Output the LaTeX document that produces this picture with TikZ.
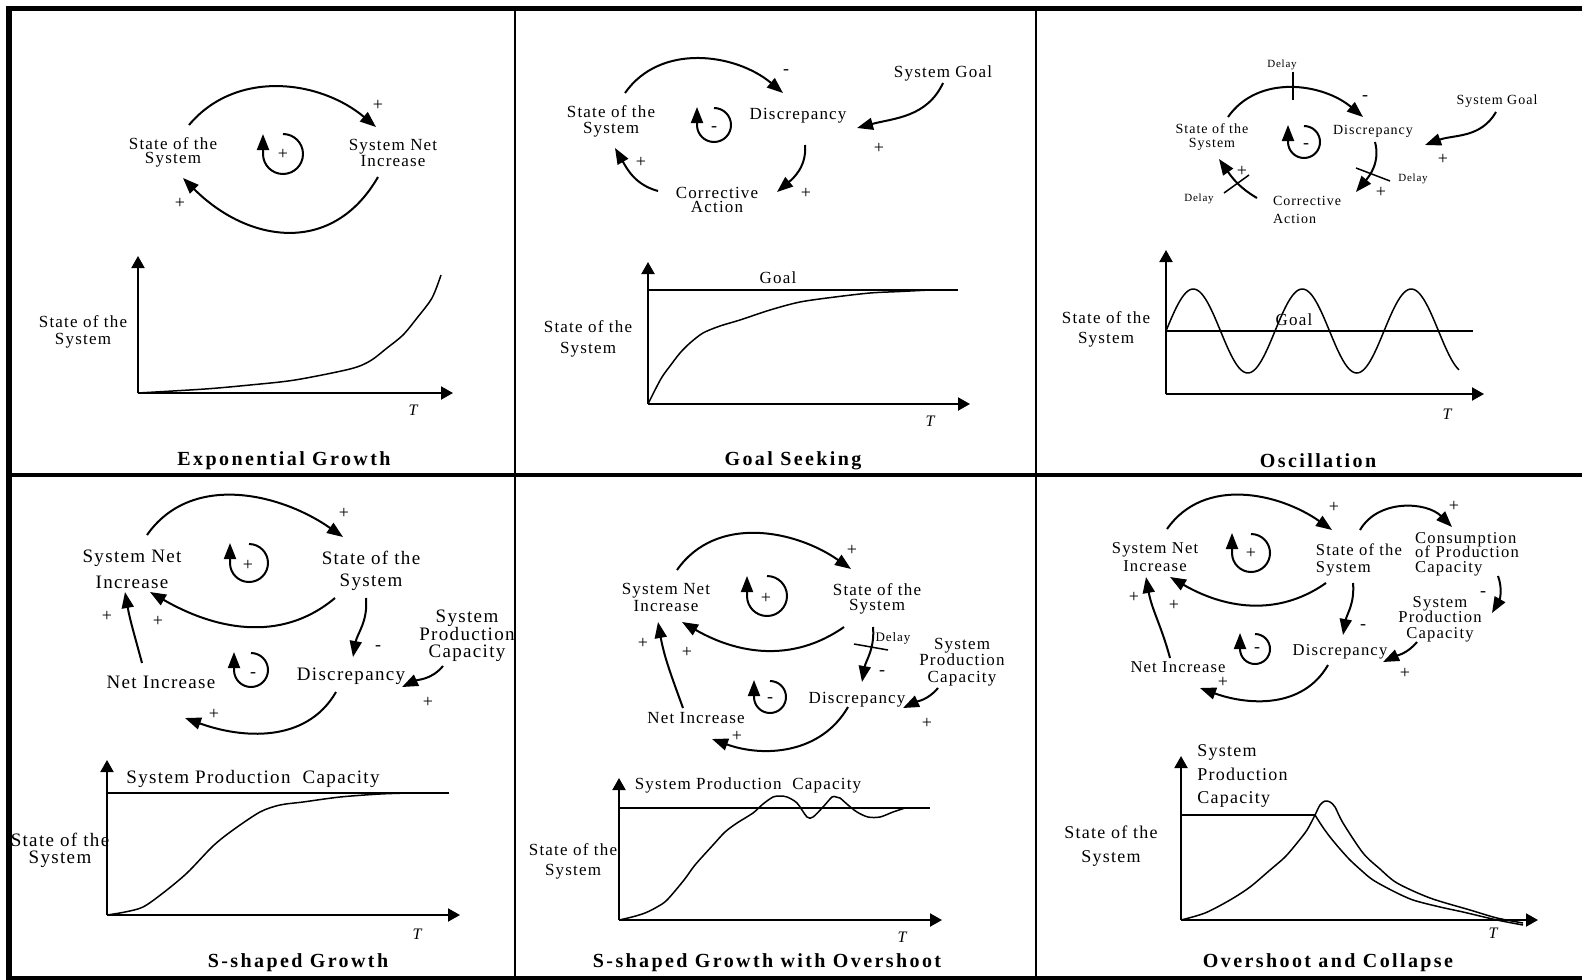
\documentclass[tikz,border=0pt]{standalone}
\usepackage{fontspec}
\setmainfont{Liberation Serif}[LetterSpace=7]
\newfontfamily\ttlfont{Liberation Serif}[LetterSpace=12]
\usepackage{tikz}
\usetikzlibrary{arrows.meta}
\newcommand\fs[2]{\fontsize{#1}{#2}\selectfont\lineskiplimit=-30pt\relax}

\begin{document}
\begin{tikzpicture}[x=0.5pt,y=0.5pt,>={Triangle[length=8pt,width=6pt]}]
\tikzstyle{lab}=[inner sep=0,align=center]
\tikzstyle{sgn}=[inner sep=0,font=\fs{9}{9}]
\tikzstyle{ttl}=[inner sep=0,font=\ttlfont\fs{10}{10}\bfseries]
\tikzstyle{tt}=[inner sep=0,font=\fs{8}{8}\itshape]
\tikzstyle{dly}=[inner sep=0,font=\fs{5.5}{5.5}]
\tikzstyle{cl}=[->,line width=1pt]
\tikzstyle{ax}=[-{Triangle[length=6pt,width=6.5pt]},line width=1pt]
\tikzstyle{crv}=[line width=0.75pt]
\useasboundingbox (0,0) rectangle (1582,-979);

% Exponential Growth
\node[lab,font=\fs{8.5}{7}] (p1s) at (173,-152) {State of the\\System};
\node[lab,font=\fs{8.5}{8}] (p1n) at (393,-153) {System Net\\Increase};
\draw[cl] ([shift={(16,27)}]p1s.center) to[out=50,in=140] ([shift={(-17,26)}]p1n.center);
\draw[cl,looseness=1.2] ([shift={(-15,-24)}]p1n.center) to[out=-120,in=-45] ([shift={(10,-26)}]p1s.center);
\node[sgn] (p1a) at (378,-105) {+};
\node[sgn] (p1b) at (180,-203) {+};
\draw[cl] (283,-134) arc[start angle=90,end angle=-180,radius=20] -- ++(0,20);
\node[sgn] (p1c) at (283,-154) {+};
\coordinate (o1) at (138,-393);
\draw[ax] (o1) -- ++(0,137);
\draw[ax] (o1) -- ++(315,0);
\draw[crv] plot[smooth] coordinates {(138,-393) (205,-389) (250,-385) (295,-380) (350,-369) (370,-361) (387,-348) (403,-335) (417,-318) (432,-298) (441,-275)};
\node[lab,font=\fs{8.5}{8.5}] (p1y) at (83,-332) {State of the\\System};
\node[tt] (p1t) at (413,-410) {T};
\node[ttl] (p1h) at (284,-461) {Exponential Growth};

% Goal Seeking
\node[lab,font=\fs{8.5}{8}] (p2s) at (611,-121) {State of the\\System};
\node[lab,font=\fs{8.5}{8.5}] (p2d) at (798,-116) {Discrepancy};
\node[lab,font=\fs{8.5}{8.5}] (p2g) at (943,-73) {System Goal};
\node[lab,font=\fs{8.5}{7}] (p2c) at (717,-200) {Corrective\\Action};
\draw[cl] ([shift={(14,28)}]p2s.center) to[out=55,in=140] ([shift={(-15,23)}]p2d.center);
\draw[cl] ([shift={(7,-29)}]p2d.center) to[out=-85,in=40] ([shift={(60,8)}]p2c.center);
\draw[cl] ([shift={(-59,9)}]p2c.center) to[out=165,in=-60] ([shift={(4,-27)}]p2s.center);
\draw[cl] ([shift={(0,-10)}]p2g.center) to[out=-115,in=15] ([shift={(59,-12)}]p2d.center);
\node[sgn] (p2a) at (786,-72) {-};
\node[sgn] (p2b) at (806,-193) {+};
\node[sgn] (p2e) at (641,-162) {+};
\node[sgn] (p2f) at (879,-148) {+};
\draw[cl] (714,-108) arc[start angle=90,end angle=-180,radius=17] -- ++(0,18);
\node[sgn] (p2l) at (714,-129) {-};
\coordinate (o2) at (648,-404);
\draw[ax] (o2) -- ++(0,142);
\draw[ax] (o2) -- ++(322,0);
\draw[crv] (648,-290) -- (958,-290);
\node[lab,font=\fs{8.5}{8.5}] (p2o) at (778,-278) {Goal};
\draw[crv] plot[smooth] coordinates {(648,-404) (655,-390) (662,-377) (670,-366) (680,-353) (690,-343) (703,-333) (720,-326) (740,-320) (770,-310) (800,-302) (835,-297) (870,-293) (900,-291.5) (930,-290)};
\node[lab,font=\fs{8.5}{10.5}] (p2y) at (588,-339) {State of the\\System};
\node[tt] (p2t) at (930,-421) {T};
\node[ttl] (p2h) at (793,-461) {Goal Seeking};

% Oscillation
\node[lab,font=\fs{7}{7}] (p3s) at (1212,-137) {State of the\\System};
\node[lab,font=\fs{7}{7}] (p3d) at (1373,-131) {Discrepancy};
\node[lab,font=\fs{7}{7}] (p3g) at (1497,-101) {System Goal};
\node[lab,align=left,font=\fs{7}{9}] (p3c) at (1307,-210) {Corrective\\Action};
\draw[cl] ([shift={(16,20)}]p3s.center) to[out=55,in=140] ([shift={(-10,14)}]p3d.center);
\draw[cl] ([shift={(2,-11)}]p3d.center) to[out=-75,in=50] ([shift={(49,18)}]p3c.center);
\draw[cl] ([shift={(-50,12)}]p3c.center) to[out=150,in=-55] ([shift={(7,-22)}]p3s.center);
\draw[cl] ([shift={(-1,-11)}]p3g.center) to[out=-120,in=20] ([shift={(52,-14)}]p3d.center);
\node[dly] (p3x) at (1282,-65) {Delay};
\node[dly] (p3y2) at (1413,-179) {Delay};
\node[dly] (p3z) at (1199,-199) {Delay};
\draw[crv] (1293,-72) -- (1293,-100);
\draw[crv] (1356,-168) -- (1390,-181);
\draw[crv] (1224,-193) -- (1249,-175);
\node[sgn] (p3a) at (1365,-98) {-};
\node[sgn] (p3b) at (1381,-192) {+};
\node[sgn] (p3e) at (1242,-171) {+};
\node[sgn] (p3f) at (1443,-159) {+};
\draw[cl] (1304,-126) arc[start angle=90,end angle=-180,radius=16] -- ++(0,17);
\node[sgn] (p3l) at (1306,-146) {-};
\coordinate (o3) at (1166,-394);
\draw[ax] (o3) -- ++(0,144);
\draw[ax] (o3) -- ++(318,0);
\draw[crv] (1166,-331) -- (1473,-331);
\node[lab,font=\fs{8.5}{8.5}] (p3o) at (1294,-320) {Goal};
\draw[crv] plot[domain=1166:1459,samples=150,smooth] (\x,{-331+42*sin((\x-1166)/109*360)});
\node[lab,font=\fs{8.5}{10}] (p3y) at (1106,-329) {State of the\\System};
\node[tt] (p3t) at (1447,-414) {T};
\node[ttl] (p3h) at (1318,-461) {Oscillation};

% S-shaped Growth
\node[lab,font=\fs{9.5}{13}] (p4n) at (132,-569) {System Net\\Increase};
\node[lab,font=\fs{9.5}{11}] (p4s) at (371,-571) {State of the\\System};
\node[lab,font=\fs{9.5}{9.5}] (p4ni) at (161,-682) {Net Increase};
\node[lab,font=\fs{9.5}{9.5}] (p4d) at (351,-676) {Discrepancy};
\node[lab,font=\fs{9.5}{8.75}] (p4p) at (467,-636) {System\\Production\\Capacity};
\draw[cl] ([shift={(15,34)}]p4n.center) to[out=55,in=145] ([shift={(-28,34)}]p4s.center);
\draw[cl] ([shift={(-36,-27)}]p4s.center) to[out=-140,in=-30] ([shift={(18,-23)}]p4n.center);
\draw[cl] ([shift={(-5,-27)}]p4s.center) to[out=-85,in=80] ([shift={(2,19)}]p4d.center);
\draw[cl] ([shift={(-15,-16)}]p4d.center) to[out=-120,in=-20] ([shift={(24,-36)}]p4ni.center);
\draw[cl] ([shift={(-19,19)}]p4ni.center) to[out=105,in=-80] ([shift={(-7,-23)}]p4n.center);
\draw[cl] ([shift={(-24,-30)}]p4p.center) to[out=-130,in=25] ([shift={(51,-11)}]p4d.center);
\node[sgn] (p4a) at (344,-513) {+};
\node[sgn] (p4b) at (158,-621) {+};
\node[sgn] (p4c) at (378,-648) {-};
\node[sgn] (p4e) at (214,-714) {+};
\node[sgn] (p4f) at (107,-616) {+};
\node[sgn] (p4g) at (428,-702) {+};
\draw[cl] (249,-544) arc[start angle=90,end angle=-180,radius=19] -- ++(0,20);
\node[sgn] (p4l) at (248,-565) {+};
\draw[cl] (251,-653) arc[start angle=90,end angle=-180,radius=17] -- ++(0,18);
\node[sgn] (p4m) at (253,-675) {-};
\coordinate (o4) at (107,-915);
\draw[ax] (o4) -- ++(0,155);
\draw[ax] (o4) -- ++(353,0);
\draw[crv] (107,-793) -- (449,-793);
\node[lab,font=\fs{9.5}{9.5}] (p4o) at (253,-779) {System Production\ \ Capacity};
\draw[crv] plot[smooth] coordinates {(107,-915) (125,-912) (143,-907) (163,-893) (187,-873) (213,-846) (233,-830) (260,-812) (280,-805) (303,-802) (340,-797) (380,-794) (409,-793)};
\node[lab,font=\fs{9.5}{8.5}] (p4y) at (60,-850) {State of the\\System};
\node[tt] (p4t) at (417,-934) {T};
\node[ttl] (p4h) at (298,-963) {S-shaped Growth};

% S-shaped Growth with Overshoot
\node[lab,font=\fs{8.5}{8.5}] (p5n) at (666,-597) {System Net\\Increase};
\node[lab,font=\fs{8.5}{7.5}] (p5s) at (877,-599) {State of the\\System};
\node[lab,font=\fs{8.5}{8.5}] (p5d) at (857,-700) {Discrepancy};
\node[lab,font=\fs{8.5}{8.5}] (p5ni) at (696,-718) {Net Increase};
\node[lab,font=\fs{8.5}{8.25}] (p5p) at (962,-662) {System\\Production\\Capacity};
\node[dly,font=\fs{6.5}{6.5}] (p5x) at (893,-638) {Delay};
\draw[cl] ([shift={(11,27)}]p5n.center) to[out=55,in=145] ([shift={(-26,30)}]p5s.center);
\draw[cl] ([shift={(-33,-28)}]p5s.center) to[out=-145,in=-30] ([shift={(16,-25)}]p5n.center);
\draw[cl] ([shift={(-4,-28)}]p5s.center) to[out=-85,in=80] ([shift={(5,18)}]p5d.center);
\draw[cl] ([shift={(-9,-7)}]p5d.center) to[out=-120,in=-20] ([shift={(16,-21)}]p5ni.center);
\draw[cl] ([shift={(-13,10)}]p5ni.center) to[out=110,in=-80] ([shift={(-8,-25)}]p5n.center);
\draw[cl] ([shift={(-24,-26)}]p5p.center) to[out=-130,in=25] ([shift={(46,-8)}]p5d.center);
\draw[crv] (854,-644) -- (888,-650);
\node[sgn] (p5a) at (852,-550) {+};
\node[sgn] (p5b) at (687,-652) {+};
\node[sgn] (p5c) at (882,-673) {-};
\node[sgn] (p5e) at (737,-736) {+};
\node[sgn] (p5f) at (643,-643) {+};
\node[sgn] (p5g) at (927,-723) {+};
\draw[cl] (767,-576) arc[start angle=90,end angle=-180,radius=20] -- ++(0,20);
\node[sgn] (p5l) at (766,-598) {+};
\draw[cl] (770,-681) arc[start angle=90,end angle=-180,radius=16] -- ++(0,17);
\node[sgn] (p5m) at (770,-700) {-};
\coordinate (o5) at (619,-920);
\draw[ax] (o5) -- ++(0,142);
\draw[ax] (o5) -- ++(323,0);
\draw[crv] (619,-808) -- (930,-808);
\node[lab,font=\fs{8.5}{8.5}] (p5o) at (748,-785) {System Production\ \ Capacity};
\draw[crv] plot[smooth] coordinates {(619,-920) (632,-917) (645,-913) (657,-907) (667,-900) (684,-880) (695,-865) (713,-845) (725,-832) (737,-823) (753,-813) (763,-804) (773,-797) (780,-796) (787,-797) (797,-803) (807,-817) (813,-817) (823,-807) (832,-797) (836,-797) (840,-798) (848,-805) (857,-812) (868,-817) (880,-817) (893,-812) (905,-808)};
\node[lab,font=\fs{8.5}{10}] (p5y) at (573,-861) {State of the\\System};
\node[tt] (p5t) at (902,-937) {T};
\node[ttl] (p5h) at (767,-963) {S-shaped Growth with Overshoot};

% Overshoot and Collapse
\node[lab,font=\fs{8.3}{9}] (p6n) at (1155,-557) {System Net\\Increase};
\node[lab,align=left,font=\fs{8.3}{8.5}] (p6s) at (1359,-560) {State of the\\System};
\node[lab,align=left,font=\fs{8.3}{7.25}] (p6k) at (1467,-554) {Consumption\\of Production\\Capacity};
\node[lab,font=\fs{8.3}{7.75}] (p6p) at (1440,-619) {System\\Production\\Capacity};
\node[lab,font=\fs{8.3}{8.3}] (p6d) at (1340,-652) {Discrepancy};
\node[lab,font=\fs{8.3}{8.3}] (p6ni) at (1178,-667) {Net Increase};
\draw[cl] ([shift={(12,28)}]p6n.center) to[out=55,in=145] ([shift={(-27,30)}]p6s.center);
\draw[cl] ([shift={(-33,-23)}]p6s.center) to[out=-145,in=-30] ([shift={(15,-20)}]p6n.center);
\draw[cl] ([shift={(-6,-23)}]p6s.center) to[out=-85,in=80] ([shift={(3,17)}]p6d.center);
\draw[cl] ([shift={(-12,-13)}]p6d.center) to[out=-120,in=-20] ([shift={(22,-21)}]p6ni.center);
\draw[cl] ([shift={(-8,9)}]p6ni.center) to[out=105,in=-80] ([shift={(-9,-20)}]p6n.center);
\draw[cl] ([shift={(1,30)}]p6s.center) to[out=60,in=135] ([shift={(-15,27)}]p6k.center);
\draw[cl] ([shift={(31,-22)}]p6k.center) to[out=-70,in=60] ([shift={(52,6)}]p6p.center);
\draw[cl] ([shift={(-23,-23)}]p6p.center) to[out=-130,in=25] ([shift={(43,-10)}]p6d.center);
\node[sgn] (p6a) at (1334,-507) {+};
\node[sgn] (p6b) at (1174,-605) {+};
\node[sgn] (p6c) at (1363,-627) {-};
\node[sgn] (p6e) at (1223,-682) {+};
\node[sgn] (p6f) at (1134,-597) {+};
\node[sgn] (p6g) at (1454,-506) {+};
\node[sgn] (p6h) at (1483,-594) {-};
\node[sgn] (p6i) at (1405,-673) {+};
\draw[cl] (1251,-534) arc[start angle=90,end angle=-180,radius=19] -- ++(0,20);
\node[sgn] (p6l) at (1251,-553) {+};
\draw[cl] (1255,-634) arc[start angle=90,end angle=-180,radius=15] -- ++(0,16);
\node[sgn] (p6m) at (1257,-650) {-};
\coordinate (o6) at (1181,-920);
\draw[ax] (o6) -- ++(0,164);
\draw[ax] (o6) -- ++(357,0);
\draw[line width=1.25pt] (1181,-815) -- (1315,-815);
\node[lab,align=left,anchor=west,font=\fs{9}{11.75}] (p6o) at (1197,-776) {System\\Production\\Capacity};
\draw[crv] plot[smooth] coordinates {(1181,-920) (1205,-913) (1230,-900) (1250,-887) (1270,-870) (1285,-857) (1297,-843) (1307,-830) (1315,-815) (1320,-805) (1325,-801) (1330,-802) (1335,-807) (1343,-823) (1363,-853) (1380,-869) (1397,-883) (1430,-898) (1470,-910) (1497,-918) (1523,-923)};
\draw[crv] plot[smooth] coordinates {(1315,-815) (1322,-826) (1330,-837) (1340,-849) (1350,-860) (1362,-871) (1373,-880) (1393,-891) (1413,-900) (1440,-907) (1463,-912) (1497,-920) (1523,-925)};
\node[lab,font=\fs{9}{12}] (p6y) at (1111,-846) {State of the\\System};
\node[tt] (p6t) at (1493,-933) {T};
\node[ttl] (p6h) at (1328,-963) {Overshoot and Collapse};

% frame
\draw[line width=2.5pt] (6,-8.5) -- (1582,-8.5);
\draw[line width=3pt] (9,-6) -- (9,-979);
\draw[line width=2pt] (6,-977.5) -- (1582,-977.5);
\draw[line width=2pt] (6,-474.5) -- (1582,-474.5);
\draw[line width=1pt] (515,-8) -- (515,-977);
\draw[line width=1pt] (1036,-8) -- (1036,-977);
\end{tikzpicture}
\end{document}
